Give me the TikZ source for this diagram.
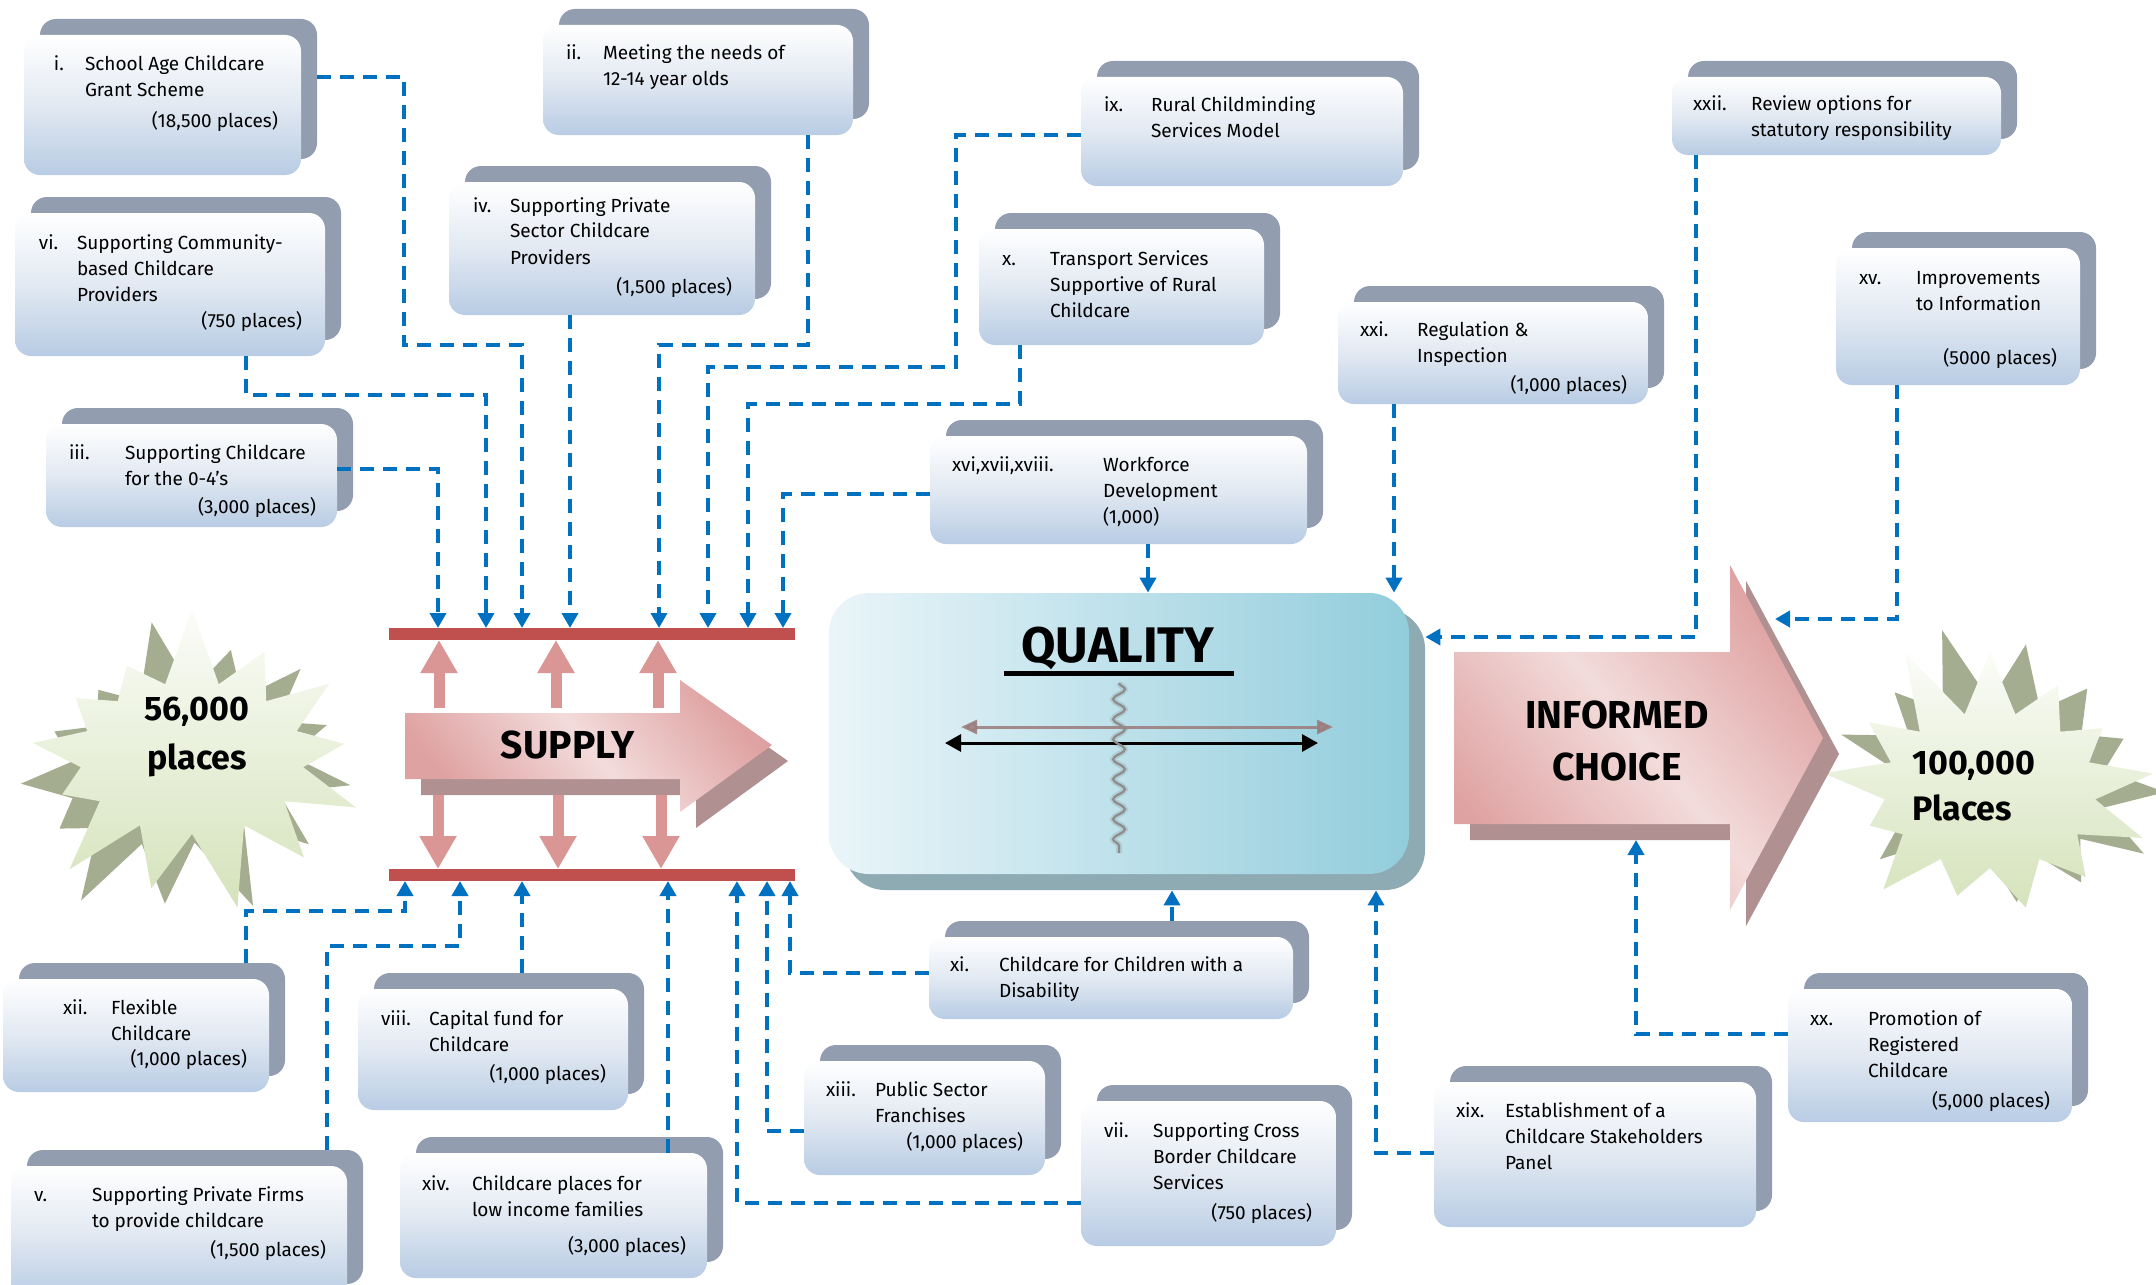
\documentclass[tikz,border=0pt]{standalone}
\usepackage{fontspec}
\setmainfont{Fira Sans}
\usetikzlibrary{arrows.meta,shapes.symbols,decorations.pathmorphing}

\definecolor{boxback}{HTML}{929EB0}
\definecolor{boxblue}{HTML}{B8CCE4}
\definecolor{boxmid}{HTML}{E2E9F2}
\definecolor{connblue}{HTML}{0070C0}
\definecolor{barred}{HTML}{C0504D}
\definecolor{pinkshaft}{HTML}{DA9694}
\definecolor{pinklight}{HTML}{F2DCDB}
\definecolor{pinkdark}{HTML}{DFA2A2}
\definecolor{pinkshadow}{HTML}{B09090}
\definecolor{qleft}{HTML}{EAF5F9}
\definecolor{qright}{HTML}{92CDDC}
\definecolor{qshadow}{HTML}{8EAAB2}
\definecolor{qbrown}{HTML}{9B7A7A}
\definecolor{wavegrey}{HTML}{8C8C8C}
\definecolor{starlight}{HTML}{FBFCF8}
\definecolor{stargreen}{HTML}{D5E3BB}
\definecolor{starshadow}{HTML}{A5AD91}

\tikzset{
  backbox/.style={fill=boxback, draw=none, rounded corners=8pt, inner sep=0pt, outer sep=0pt},
  frontbox/.style={top color=white, bottom color=boxblue, middle color=boxmid, draw=none,
                   rounded corners=8pt, inner sep=0pt, outer sep=0pt},
  boxtext/.style={inner sep=0pt, outer sep=0pt, font=\fontsize{9.5}{13}\selectfont},
  conn/.style={draw=connblue, line width=2pt, dash pattern=on 7pt off 4.5pt,
               -{Triangle[length=7.5pt,width=8pt]}},
  bar/.style={fill=barred, draw=none, inner sep=0pt, outer sep=0pt,
              minimum width=203pt, minimum height=6pt},
  pinkarrow/.style={draw=pinkshaft, line width=5.5pt, -{Triangle[length=16.5pt,width=17.5pt]}},
  bigword/.style={inner sep=0pt, align=center, font=\bfseries\fontsize{19.5}{26}\selectfont},
  burst/.style={starburst, starburst points=13, starburst point height=40pt,
                inner sep=0pt, draw=none},
}

% a scheme box: grey back plate plus shaded front face
% #1 name, #2 left, #3 top, #4 right, #5 bottom (front face, in px)
\newcommand\schemebox[5]{%
  \node[backbox, minimum width={(#4-#2)*0.5pt}, minimum height={(#5-#3)*0.5pt}]
    (#1-s) at ({(#2+#4)/2+16},{(#3+#5)/2-16}) {};
  \node[frontbox, minimum width={(#4-#2)*0.5pt}, minimum height={(#5-#3)*0.5pt}]
    (#1) at ({(#2+#4)/2},{(#3+#5)/2}) {};
}
\newcommand\tlines[1]{\begin{tabular}[t]{@{}l@{}}#1\end{tabular}}
% numeral and body text: #1 name, #2 numeral x, #3 body x, #4 first baseline, #5 numeral, #6 lines
\newcommand\schemetext[6]{%
  \node[boxtext, anchor=base west] (#1-n) at (#2,#4) {#5};
  \node[boxtext, anchor=base west] (#1-t) at (#3,#4) {\tlines{#6}};
}
% right-aligned places line: #1 name, #2 right x, #3 baseline, #4 text
\newcommand\schemeplaces[4]{%
  \node[boxtext, anchor=base east] (#1-p) at (#2,#3) {#4};
}

\begin{document}
\begin{tikzpicture}[x=0.5pt,y=-0.5pt]
\useasboundingbox (0,0) rectangle (2156,1284);
\clip (0,0) rectangle (2156,1284);
\fill[white] (0,0) rectangle (2156,1284);

% ---------- starbursts ----------
\node[burst, random starburst=7, fill=starshadow, minimum width=192pt, minimum height=156pt,
      rotate=11] (burst56-s) at (180,768) {};
\node[burst, random starburst=7, top color=starlight, bottom color=stargreen,
      minimum width=192pt, minimum height=156pt] (burst56) at (192,758) {};
\node[inner sep=0pt, anchor=base, font=\bfseries\fontsize{17}{24.5}\selectfont]
  (burst56-t) at (197,720) {\begin{tabular}[t]{@{}c@{}}56,000\\places\end{tabular}};

\node[burst, random starburst=11, fill=starshadow, minimum width=186pt, minimum height=158pt,
      rotate=-10] (burst100-s) at (2002,780) {};
\node[burst, random starburst=11, top color=starlight, bottom color=stargreen,
      minimum width=186pt, minimum height=158pt] (burst100) at (1990,790) {};
\node[inner sep=0pt, anchor=base west, font=\bfseries\fontsize{17}{23}\selectfont]
  (burst100-t) at (1912,774) {\begin{tabular}[t]{@{}l@{}}100,000\\Places\end{tabular}};

% ---------- supply arrow and bars ----------
\fill[pinkshadow] (421,729) -- (696,729) -- (696,696) -- (788,761) -- (696,828)
  -- (696,795) -- (421,795) -- cycle;
\shade[top color=pinkdark, bottom color=pinkdark, middle color=pinklight, shading angle=-50]
  (405,713) -- (680,713) -- (680,680) -- (772,745) -- (680,812) -- (680,779) -- (405,779) -- cycle;
\node[bigword] (supply) at (568,745) {SUPPLY};

\node[bar] (topbar) at (591.5,634) {};
\node[bar] (botbar) at (591.5,875) {};

\foreach \px in {439,556,658}
  \draw[pinkarrow] (\px,708) -- (topbar.south -| \px,0);
\foreach \px in {438,558,661}
  \draw[pinkarrow] (\px,795) -- (botbar.north -| \px,0);

% ---------- quality panel ----------
\node[fill=qshadow, rounded corners=20pt, inner sep=0pt, minimum width=290pt, minimum height=140.5pt]
  (quality-s) at (1135,749.5) {};
\node[left color=qleft, right color=qright, rounded corners=20pt, inner sep=0pt,
      minimum width=290pt, minimum height=140.5pt] (quality) at (1119,733.5) {};
\node[inner sep=0pt, font=\bfseries\fontsize{25}{30}\selectfont] (qtitle) at (1118,648) {QUALITY};
\draw[line width=2.5pt] (1004,673) -- (1234,673);
\draw[wavegrey, opacity=0.25, line width=3pt, decorate,
      decoration={snake, amplitude=3pt, segment length=10pt}] (1119,683) -- (1119,853);
\draw[qbrown, opacity=0.85, line width=1.5pt,
      {Triangle[length=8pt,width=7pt]}-{Triangle[length=8pt,width=7pt]}] (961,727) -- (1333,727);
\draw[black, line width=1.5pt,
      {Triangle[length=8pt,width=8.5pt]}-{Triangle[length=8pt,width=8.5pt]}] (945,743) -- (1318,743);
\draw[wavegrey, line width=1.1pt, decorate,
      decoration={snake, amplitude=3pt, segment length=10pt}] (1119,683) -- (1119,853);

% ---------- informed choice arrow ----------
\fill[pinkshadow] (1470,668) -- (1746,668) -- (1746,581) -- (1839,754) -- (1746,926)
  -- (1746,840) -- (1470,840) -- cycle;
\shade[top color=pinkdark, bottom color=pinkdark, middle color=pinklight, shading angle=-50]
  (1454,652) -- (1730,652) -- (1730,565) -- (1823,738) -- (1730,910) -- (1730,824)
  -- (1454,824) -- cycle;
\node[bigword] (choice) at (1617,741) {INFORMED\\CHOICE};
\coordinate (choice-edge) at (1775,619);
\coordinate (choice-base) at (1636,840);

% ---------- scheme boxes ----------
\schemebox{box-i}{24}{35}{301}{175}
\schemebox{box-ii}{543}{25}{853}{135}
\schemebox{box-iii}{46}{424}{337}{527}
\schemebox{box-iv}{449}{182}{755}{315}
\schemebox{box-v}{11}{1166}{347}{1300}
\schemebox{box-vi}{15}{213}{325}{356}
\schemebox{box-vii}{1081}{1101}{1336}{1246}
\schemebox{box-viii}{358}{989}{628}{1110}
\schemebox{box-ix}{1081}{77}{1403}{186}
\schemebox{box-x}{979}{229}{1264}{345}
\schemebox{box-xi}{929}{937}{1293}{1019}
\schemebox{box-xii}{3}{979}{269}{1092}
\schemebox{box-xiii}{804}{1061}{1045}{1175}
\schemebox{box-xiv}{400}{1153}{707}{1278}
\schemebox{box-xv}{1836}{248}{2080}{385}
\schemebox{box-xvi}{930}{436}{1307}{544}
\schemebox{box-xix}{1434}{1082}{1756}{1227}
\schemebox{box-xx}{1788}{989}{2072}{1122}
\schemebox{box-xxi}{1338}{302}{1648}{404}
\schemebox{box-xxii}{1672}{77}{2001}{155}

% ---------- connectors into the supply bars ----------
\draw[conn] (box-i-s.east |- 0,77) -| (404,345) -| (topbar.north -| 522,0);
\draw[conn] (box-vi.south -| 246,0) |- (486,395) -- (topbar.north -| 486,0);
\draw[conn] (box-iii.east |- 0,469) -| (topbar.north -| 438,0);
\draw[conn] (box-iv.south -| 570,0) -- (topbar.north -| 570,0);
\draw[conn] (box-ii.south -| 808,0) |- (659,345) -- (topbar.north -| 659,0);
\draw[conn] (box-ix.west |- 0,135) -| (956,367) -| (topbar.north -| 708,0);
\draw[conn] (box-x.south -| 1020,0) |- (748,404) -- (topbar.north -| 748,0);
\draw[conn] (box-xvi.west |- 0,494) -| (topbar.north -| 783,0);

\draw[conn] (box-xii-s.north -| 246,0) |- (405,911) -- (botbar.south -| 405,0);
\draw[conn] (box-v-s.north -| 327,0) |- (460,946) -- (botbar.south -| 460,0);
\draw[conn] (box-viii-s.north -| 522,0) -- (botbar.south -| 522,0);
\draw[conn] (box-xiv.north -| 668,0) -- (botbar.south -| 668,0);
\draw[conn] (box-vii.west |- 0,1203) -| (botbar.south -| 737,0);
\draw[conn] (box-xiii.west |- 0,1131) -| (botbar.south -| 767,0);
\draw[conn] (box-xi.west |- 0,973) -| (botbar.south -| 790,0);

% ---------- connectors into quality and choice ----------
\draw[conn] (box-xvi.south -| 1148,0) -- (quality.north -| 1148,0);
\draw[conn] (box-xxi.south -| 1394,0) -- (quality.north -| 1394,0);
\draw[conn] (box-xi-s.north -| 1172,0) -- (quality-s.south -| 1172,0);
\draw[conn] (box-xix.west |- 0,1153) -| (quality-s.south -| 1376,0);
\draw[conn] (box-xxii.south -| 1696,0) |- (quality-s.east |- 0,637);
\draw[conn] (box-xv.south -| 1897,0) |- (choice-edge);
\draw[conn] (box-xx.west |- 0,1034) -| (choice-base);

% ---------- box texts ----------
\schemetext{box-i}{54}{85}{71}{i.}{School Age Childcare\\Grant Scheme}
\schemeplaces{box-i}{278}{127}{(18,500 places)}
\schemetext{box-ii}{566}{603}{60}{ii.}{Meeting the needs of\\12-14 year olds}
\schemetext{box-iii}{69}{125}{459}{iii.}{Supporting Childcare\\for the 0-4’s}
\schemeplaces{box-iii}{316}{513}{(3,000 places)}
\schemetext{box-iv}{473}{510}{212}{iv.}{Supporting Private\\Sector Childcare\\Providers}
\schemeplaces{box-iv}{732}{293}{(1,500 places)}
\schemetext{box-v}{34}{92}{1201}{v.}{Supporting Private Firms\\to provide childcare}
\schemeplaces{box-v}{326}{1256}{(1,500 places)}
\schemetext{box-vi}{39}{77}{249}{vi.}{Supporting Community-\\based Childcare\\Providers}
\schemeplaces{box-vi}{302}{327}{(750 places)}
\schemetext{box-vii}{1104}{1153}{1137}{vii.}{Supporting Cross\\Border Childcare\\Services}
\schemeplaces{box-vii}{1312}{1219}{(750 places)}
\schemetext{box-viii}{381}{429}{1025}{viii.}{Capital fund for\\Childcare}
\schemeplaces{box-viii}{606}{1080}{(1,000 places)}
\schemetext{box-ix}{1104}{1151}{112}{ix.}{Rural Childminding\\Services Model}
\schemetext{box-x}{1002}{1050}{265}{x.}{Transport Services\\Supportive of Rural\\Childcare}
\schemetext{box-xi}{950}{999}{971}{xi.}{Childcare for Children with a\\Disability}
\schemetext{box-xii}{63}{111}{1014}{xii.}{Flexible\\Childcare}
\schemeplaces{box-xii}{247}{1065}{(1,000 places)}
\schemetext{box-xiii}{826}{875}{1096}{xiii.}{Public Sector\\Franchises}
\schemeplaces{box-xiii}{1023}{1148}{(1,000 places)}
\schemetext{box-xiv}{422}{472}{1190}{xiv.}{Childcare places for\\low income families}
\schemeplaces{box-xiv}{686}{1252}{(3,000 places)}
\schemetext{box-xv}{1859}{1916}{284}{xv.}{Improvements\\to Information}
\schemeplaces{box-xv}{2057}{364}{(5000 places)}
\schemetext{box-xvi}{952}{1103}{471}{xvi,xvii,xviii.}{Workforce\\Development\\(1,000)}
\schemetext{box-xix}{1456}{1505}{1117}{xix.}{Establishment of a\\Childcare Stakeholders\\Panel}
\schemetext{box-xx}{1810}{1868}{1025}{xx.}{Promotion of\\Registered\\Childcare}
\schemeplaces{box-xx}{2050}{1107}{(5,000 places)}
\schemetext{box-xxi}{1360}{1417}{336}{xxi.}{Regulation \&\\Inspection}
\begin{scope}
  \clip (1338,300) rectangle (1648,393);
  \schemeplaces{box-xxi}{1627}{391}{(1,000 places)}
\end{scope}
\schemetext{box-xxii}{1693}{1751}{111}{xxii.}{Review options for\\statutory responsibility}
\end{tikzpicture}
\end{document}
